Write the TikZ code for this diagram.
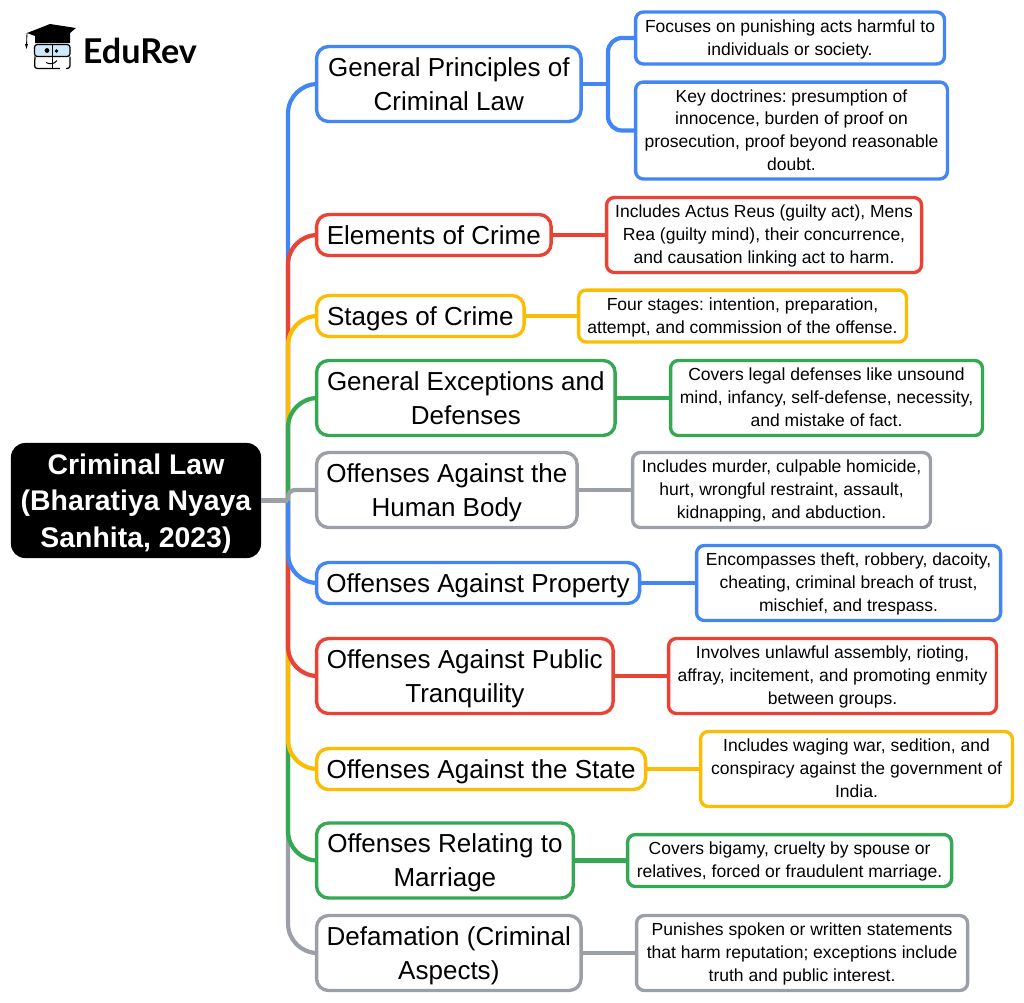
\documentclass[tikz,border=0pt]{standalone}
\usepackage{fontspec}
\setmainfont{Liberation Sans}
\newfontfamily\logofont{Lato}
\definecolor{mapblue}{HTML}{4285F4}
\definecolor{mapred}{HTML}{EA4335}
\definecolor{mapyellow}{HTML}{FBBC04}
\definecolor{mapgreen}{HTML}{34A853}
\definecolor{mapgrey}{HTML}{9AA0A6}
\definecolor{lens}{HTML}{CFE8FA}
\tikzset{
	rootbox/.style={fill=black,text=white,rounded corners=10pt,minimum width=177.8pt,minimum height=81.8pt,align=center,inner sep=0pt,text depth=0pt,font=\fontsize{20.2}{26}\selectfont\bfseries},
	mainbox/.style={draw=#1,line width=2.4pt,fill=white,rounded corners=8.5pt,anchor=west,outer sep=0.4pt,inner sep=0pt,align=center,text depth=0pt,font=\fontsize{18.5}{24.2}\selectfont},
	leafbox/.style={draw=#1,line width=2.4pt,fill=white,rounded corners=5.5pt,anchor=west,outer sep=0.4pt,inner sep=0pt,align=center,text depth=1pt,font=\fontsize{12.45}{16.15}\selectfont\frenchspacing},
	branch/.style={draw=#1,line width=3pt,rounded corners=21pt},
	twig/.style={draw=#1,line width=3pt}
}
\begin{document}
\begin{tikzpicture}[x=0.025cm,y=-0.025cm]
	\useasboundingbox (0,0) rectangle (1024,1002);

	\coordinate (trunk) at (288,500.5);
	\coordinate (fork) at (608,84);

	\node[rootbox] (root) at (136,500.5) {Criminal Law\\(Bharatiya Nyaya\\Sanhita, 2023)};

	\node[mainbox=mapblue,minimum width=188.1pt,minimum height=53.3pt] (general) at (316,84) {General Principles of\\Criminal Law};
	\node[mainbox=mapred,minimum width=166.8pt,minimum height=29.1pt] (elements) at (316,235) {Elements of Crime};
	\node[mainbox=mapyellow,minimum width=147.6pt,minimum height=29.1pt] (stages) at (316,316) {Stages of Crime};
	\node[mainbox=mapgreen,minimum width=212.3pt,minimum height=53.3pt] (exceptions) at (316,398) {General Exceptions and\\Defenses};
	\node[mainbox=mapgrey,minimum width=185.3pt,minimum height=53.3pt] (body) at (316,490) {Offenses Against the\\Human Body};
	\node[mainbox=mapblue,minimum width=229.7pt,minimum height=29.1pt] (property) at (316,583) {Offenses Against Property};
	\node[mainbox=mapred,minimum width=210.9pt,minimum height=53.3pt] (public) at (316,676) {Offenses Against Public\\Tranquility};
	\node[mainbox=mapyellow,minimum width=234.0pt,minimum height=29.1pt] (state) at (316,769) {Offenses Against the State};
	\node[mainbox=mapgreen,minimum width=182.5pt,minimum height=53.3pt] (marriage) at (316,860.5) {Offenses Relating to\\Marriage};
	\node[mainbox=mapgrey,minimum width=188.1pt,minimum height=53.3pt] (defamation) at (316,953) {Defamation (Criminal\\Aspects)};

	\node[leafbox=mapblue,minimum width=219.7pt,minimum height=36.9pt] (punish) at (635,38) {Focuses on punishing acts harmful to\\individuals or society.};
	\node[leafbox=mapblue,minimum width=221.8pt,minimum height=68.9pt] (doctrines) at (635,130.5) {Key doctrines: presumption of\\innocence, burden of proof on\\prosecution, proof beyond reasonable\\doubt.};
	\node[leafbox=mapred,minimum width=224.0pt,minimum height=53.3pt] (actus) at (606,235) {Includes Actus Reus (guilty act), Mens\\Rea (guilty mind), their concurrence,\\and causation linking act to harm.};
	\node[leafbox=mapyellow,minimum width=233.2pt,minimum height=36.9pt] (four) at (578,316) {Four stages: intention, preparation,\\attempt, and commission of the offense.};
	\node[leafbox=mapgreen,minimum width=221.8pt,minimum height=53.3pt] (legal) at (670,398) {Covers legal defenses like unsound\\mind, infancy, self-defense, necessity,\\and mistake of fact.};
	\node[leafbox=mapgrey,minimum width=211.9pt,minimum height=53.3pt] (murder) at (632,490) {Includes murder, culpable homicide,\\hurt, wrongful restraint, assault,\\kidnapping, and abduction.};
	\node[leafbox=mapblue,minimum width=216.2pt,minimum height=53.3pt] (theft) at (696,583) {Encompasses theft, robbery, dacoity,\\cheating, criminal breach of trust,\\mischief, and trespass.};
	\node[leafbox=mapred,minimum width=233.2pt,minimum height=53.3pt] (riot) at (668,676) {Involves unlawful assembly, rioting,\\affray, incitement, and promoting enmity\\between groups.};
	\node[leafbox=mapyellow,minimum width=221.8pt,minimum height=53.3pt] (war) at (700,769) {Includes waging war, sedition, and\\conspiracy against the government of\\India.};
	\node[leafbox=mapgreen,minimum width=230.4pt,minimum height=36.9pt] (bigamy) at (627,860.5) {Covers bigamy, cruelty by spouse or\\relatives, forced or fraudulent marriage.};
	\node[leafbox=mapgrey,minimum width=235.4pt,minimum height=53.3pt] (spoken) at (636,953) {Punishes spoken or written statements\\that harm reputation; exceptions include\\truth and public interest.};

	\foreach \name/\col in {defamation/mapgrey,marriage/mapgreen,state/mapyellow,public/mapred,property/mapblue,general/mapblue,elements/mapred,stages/mapyellow,exceptions/mapgreen}
	\draw[branch=\col] (trunk) |- (\name.west);
	\draw[branch=mapgrey,rounded corners=5pt] (trunk) |- (body.west);
	\draw[twig=mapgrey] (root.east) -- (trunk);

	\draw[twig=mapblue] (general.east) -- (fork);
	\foreach \name in {punish,doctrines}
	\draw[branch=mapblue,rounded corners=10pt] (fork) |- (\name.west);
	\foreach \from/\to/\col in {elements/actus/mapred,stages/four/mapyellow,exceptions/legal/mapgreen,body/murder/mapgrey,property/theft/mapblue,public/riot/mapred,state/war/mapyellow,marriage/bigamy/mapgreen,defamation/spoken/mapgrey}
	\draw[twig=\col] (\from.east) -- (\to.west);

	\node[anchor=west,inner sep=0pt,font=\fontsize{24.3}{26}\logofont\bfseries] (logo) at (82.5,51) {EduRev};
	\fill (27,33) -- (50,24) -- (76,28) -- (70,33) -- (70,43) -- (35,43) -- (35,36) -- cycle;
	\draw[line width=0.6pt] (27,33) -- (26.5,46);
	\fill (25,44) -- (28,44) -- (26.5,49) -- cycle;
	\draw[fill=lens,line width=0.9pt,rounded corners=2pt] (34.5,44.5) rectangle (70,56.5);
	\draw[line width=0.9pt] (52.5,44.5) -- (52.5,68.5);
	\fill (47,50.5) circle (2.4);
	\fill (56.5,51) circle (1.8);
	\draw[line width=0.9pt,rounded corners=2pt] (35,56.5) -- (34.5,68.5) -- (60,68.5);
	\draw[line width=0.9pt,rounded corners=2pt] (70,56.5) -- (70,68.5) -- (66,68.5);
	\draw[line width=0.7pt] (46,62.5) .. controls (50,64.5) and (54,64.5) .. (57,60.5);
\end{tikzpicture}
\end{document}
